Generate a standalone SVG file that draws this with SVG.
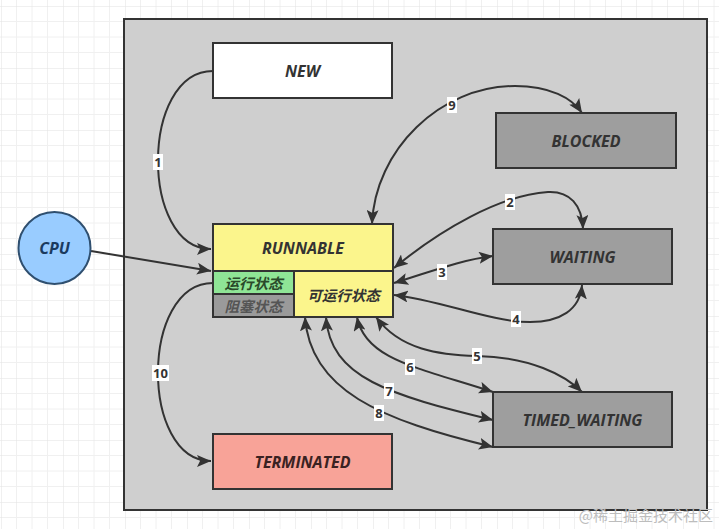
<svg xmlns="http://www.w3.org/2000/svg" width="719" height="529" viewBox="0 0 719 529">
<style>
.box{stroke:#333;stroke-width:2}
.lbl{font-family:"Open Sans","Liberation Sans",sans-serif;font-weight:bold;font-style:italic;font-size:16px;fill:#333;text-anchor:middle;dominant-baseline:central}
.cn{font-family:"Noto Sans CJK SC","Noto Sans",sans-serif;font-weight:bold;font-style:italic;font-size:14.5px;text-anchor:middle;dominant-baseline:central}
.edge{fill:none;stroke:#333;stroke-width:2;marker-end:url(#ah)}
.both{marker-start:url(#ah)}
.num{font-family:"Open Sans","Liberation Sans",sans-serif;font-weight:bold;font-size:13px;fill:#333;text-anchor:middle;dominant-baseline:central}
.nbg{fill:#fff}
</style>
<defs>
<pattern id="grid" patternUnits="userSpaceOnUse" x="1" y="6" width="62" height="62">
<path d="M15.5 0V62M31 0V62M46.5 0V62M0 15.5H62M0 31H62M0 46.5H62" stroke="#f0f0f0" stroke-width="1" fill="none"/>
<path d="M0 0V62M0 0H62" stroke="#e2e2e2" stroke-width="1" fill="none"/>
</pattern>
<marker id="ah" markerUnits="userSpaceOnUse" markerWidth="15" markerHeight="12" refX="14" refY="6" orient="auto-start-reverse">
<path d="M0,0 L14,6 L0,12 L3,6 z" fill="#333"/>
</marker>
</defs>
<rect width="719" height="529" fill="#fff"/>
<rect width="719" height="529" fill="url(#grid)"/>
<rect id="container" x="124" y="19" width="583" height="491" fill="#cfcfcf" class="box"/>

<g id="connectors">
<path class="edge" d="M213,71 C140,71 140,249 211,249"/>
<path class="edge" d="M91,251 L211,271"/>
<path class="edge" d="M213,283 C140,283 140,461 211,461"/>
<path class="edge both" d="M372,224 C375,150 440,86 515,86 C550,86 572,98 582,113"/>
<path class="edge both" d="M394,268 C440,230 500,195 548,192 C570,191 582,205 583,229"/>
<path class="edge both" d="M394,283 C430,272 460,260 493,256"/>
<path class="edge both" d="M394,295 C440,300 490,322 530,322 C560,322 580,310 582,285"/>
<path class="edge both" d="M376,317 C400,350 440,355 477,356 C530,357 565,375 582,392"/>
<path class="edge both" d="M357,317 C365,360 420,368 493,392"/>
<path class="edge both" d="M326,317 C330,378 390,395 493,420"/>
<path class="edge both" d="M305,317 C310,390 380,420 493,447"/>
<rect class="nbg" x="153" y="154" width="10" height="16"/><text class="num" x="158" y="162">1</text>
<rect class="nbg" x="505" y="194" width="10" height="16"/><text class="num" x="510" y="202">2</text>
<rect class="nbg" x="437" y="264" width="10" height="16"/><text class="num" x="442" y="272">3</text>
<rect class="nbg" x="511" y="311" width="10" height="16"/><text class="num" x="516" y="319">4</text>
<rect class="nbg" x="472" y="348" width="10" height="16"/><text class="num" x="477" y="356">5</text>
<rect class="nbg" x="405" y="359" width="10" height="16"/><text class="num" x="410" y="367">6</text>
<rect class="nbg" x="384" y="383" width="10" height="16"/><text class="num" x="389" y="391">7</text>
<rect class="nbg" x="374" y="405" width="10" height="16"/><text class="num" x="379" y="413">8</text>
<rect class="nbg" x="447" y="97" width="10" height="16"/><text class="num" x="452" y="105">9</text>
<rect class="nbg" x="152" y="365" width="17" height="16"/><text class="num" x="160.5" y="373">10</text>
</g>

<g id="cpu">
<circle cx="54.5" cy="248" r="36" fill="#99ccff" stroke="#2f4f6f" stroke-width="2"/>
<text class="lbl" x="54.5" y="248" style="fill:#1b3a5e">CPU</text>
</g>
<g id="new">
<rect class="box" x="213" y="43" width="179" height="55" fill="#fff"/>
<text class="lbl" x="302.5" y="70.5">NEW</text>
</g>
<g id="blocked">
<rect class="box" x="496" y="113" width="180" height="55" fill="#9e9e9e"/>
<text class="lbl" x="586" y="140.5">BLOCKED</text>
</g>
<g id="waiting">
<rect class="box" x="493" y="229" width="179" height="55" fill="#9e9e9e"/>
<text class="lbl" x="582.5" y="256.5">WAITING</text>
</g>
<g id="timed_waiting">
<rect class="box" x="493" y="392" width="179" height="55" fill="#9e9e9e"/>
<text class="lbl" x="582.5" y="419.5">TIMED_WAITING</text>
</g>
<g id="terminated">
<rect class="box" x="213" y="434" width="179" height="55" fill="#f8a398"/>
<text class="lbl" x="302.5" y="461.5" style="fill:#3a2222">TERMINATED</text>
</g>
<g id="runnable">
<rect class="box" x="213" y="224" width="180" height="93" fill="#fbf58c"/>
<text class="lbl" x="303" y="247.5">RUNNABLE</text>
<rect class="box" x="213" y="271" width="81" height="23" fill="#8fe596"/>
<rect class="box" x="213" y="294" width="81" height="23" fill="#9a9a9a"/>
<rect class="box" x="294" y="271" width="99" height="46" fill="#fbf58c"/>
<text class="cn" x="253.5" y="282.5" fill="#2a4a2a">运行状态</text>
<text class="cn" x="253.5" y="305.5" fill="#555">阻塞状态</text>
<text class="cn" x="343.5" y="294" fill="#333">可运行状态</text>
</g>
<text x="713" y="521" text-anchor="end" font-family="Noto Sans CJK SC, sans-serif" font-size="15" fill="#bdbdbd">@稀土掘金技术社区</text>
</svg>
